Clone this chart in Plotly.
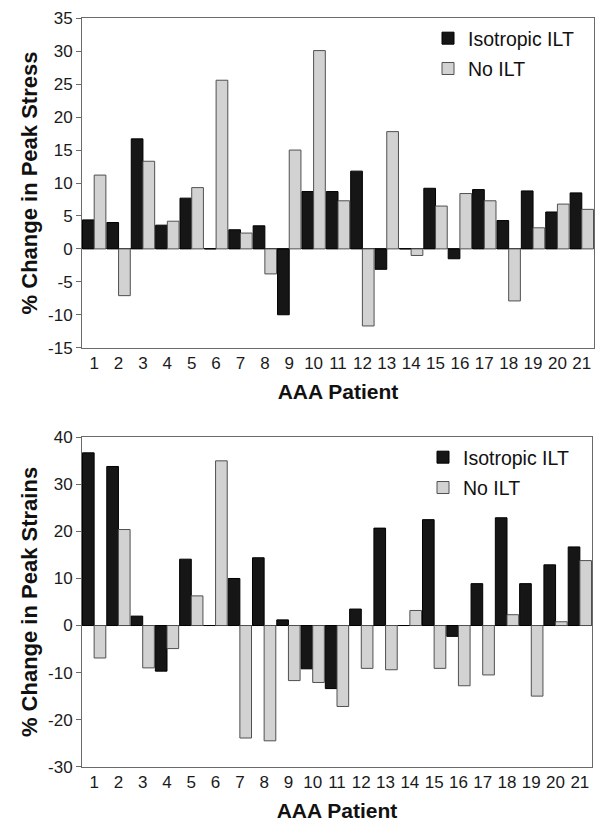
import plotly.graph_objects as go

patients = list(range(1, 22))
patient_labels = [str(p) for p in patients]

stress_isotropic = [4.4, 4.0, 16.7, 3.6, 7.7, 0.0, 2.9, 3.5, -10.0, 8.7, 8.7,
                    11.8, -3.1, 0.0, 9.2, -1.5, 9.0, 4.3, 8.8, 5.6, 8.5]
stress_no_ilt = [11.2, -7.1, 13.3, 4.2, 9.3, 25.6, 2.4, -3.8, 15.0, 30.1, 7.3,
                 -11.7, 17.8, -1.0, 6.5, 8.4, 7.3, -7.9, 3.2, 6.8, 6.0]

strain_isotropic = [36.7, 33.8, 2.0, -9.7, 14.1, 0.0, 10.0, 14.4, 1.2, -9.2, -13.4,
                    3.5, 20.7, 0.0, 22.5, -2.3, 8.9, 22.9, 8.9, 12.9, 16.7]
strain_no_ilt = [-6.9, 20.4, -9.0, -4.9, 6.3, 35.0, -23.9, -24.5, -11.7, -12.1, -17.2,
                 -9.1, -9.4, 3.2, -9.1, -12.8, -10.5, 2.3, -15.0, 0.8, 13.8]

series_names = ["Isotropic ILT", "No ILT"]
stress_ticks = [35, 30, 25, 20, 15, 10, 5, 0, -5, -10, -15]
stress_tick_labels = ["35", "30", "25", "20", "15", "10", "5", "0", "-5", "-10", "-15"]
strain_ticks = [40, 30, 20, 10, 0, -10, -20, -30]
strain_tick_labels = ["40", "30", "20", "10", "0", "-10", "-20", "-30"]

# the page body has an 8px margin, so the figure is drawn 8px in from the corner
OFF = 8
W, H = 603 - OFF, 829 - OFF
FONT = "Liberation Sans, Arial, Helvetica, sans-serif"
BLACK = "#161616"
GRAY = "#d2d2d2"
LINE = "#6a6a6a"

def fx(px):
    return (px - OFF) / W

def fy(py):
    return 1 - (py - OFF) / H

fig = go.Figure()

fig.add_trace(go.Bar(x=patients, y=stress_isotropic, name=series_names[0],
                     marker=dict(color=BLACK, line=dict(color="#000000", width=1)),
                     xaxis="x", yaxis="y", legend="legend", legendgroup="a"))
fig.add_trace(go.Bar(x=patients, y=stress_no_ilt, name=series_names[1],
                     marker=dict(color=GRAY, line=dict(color="#505050", width=1)),
                     xaxis="x", yaxis="y", legend="legend", legendgroup="b"))
fig.add_trace(go.Bar(x=patients, y=strain_isotropic, name=series_names[0],
                     marker=dict(color=BLACK, line=dict(color="#000000", width=1)),
                     xaxis="x2", yaxis="y2", legend="legend2", legendgroup="c"))
fig.add_trace(go.Bar(x=patients, y=strain_no_ilt, name=series_names[1],
                     marker=dict(color=GRAY, line=dict(color="#505050", width=1)),
                     xaxis="x2", yaxis="y2", legend="legend2", legendgroup="d"))

xcommon = dict(range=[0.5, 21.5], tickvals=patients, ticktext=patient_labels,
               showgrid=False, zeroline=False, showline=True, linecolor=LINE,
               linewidth=1, mirror=True, ticks="", automargin=False,
               tickfont=dict(family=FONT, size=17, color="#1a1a1a"),
               title=dict(text="<b>AAA Patient</b>",
                          font=dict(family=FONT, size=21, color="#111111"),
                          standoff=12))
ycommon = dict(showgrid=False, showline=True, linecolor=LINE, linewidth=1,
               mirror=True, ticks="outside", ticklen=5, tickcolor=LINE,
               automargin=False,
               zeroline=True, zerolinecolor="#333333", zerolinewidth=1,
               tickfont=dict(family=FONT, size=17, color="#1a1a1a"))

fig.update_layout(
    width=W, height=H,
    margin=dict(l=0, r=0, t=0, b=0),
    paper_bgcolor="white", plot_bgcolor="white",
    barmode="group", bargap=0.04, bargroupgap=0.0,
    font=dict(family=FONT),
    xaxis=dict(domain=[fx(82), fx(594)], anchor="y", **xcommon),
    yaxis=dict(domain=[fy(347.7), fy(18.3)], anchor="x", range=[-15, 35],
               tickvals=stress_ticks, ticktext=stress_tick_labels,
               title=dict(text="<b>% Change in Peak Stress</b>",
                          font=dict(family=FONT, size=22, color="#111111"),
                          standoff=4),
               **ycommon),
    xaxis2=dict(domain=[fx(82), fx(592)], anchor="y2", **xcommon),
    yaxis2=dict(domain=[fy(766.7), fy(437.3)], anchor="x2", range=[-30, 40],
                tickvals=strain_ticks, ticktext=strain_tick_labels,
                title=dict(text="<b>% Change in Peak Strains</b>",
                           font=dict(family=FONT, size=22, color="#111111"),
                           standoff=4),
                **ycommon),
    legend=dict(x=fx(428), y=fy(19), xanchor="left", yanchor="top",
                bgcolor="rgba(0,0,0,0)", tracegroupgap=2,
                font=dict(family=FONT, size=19.5, color="#111111")),
    legend2=dict(x=fx(423), y=fy(438), xanchor="left", yanchor="top",
                 bgcolor="rgba(0,0,0,0)", tracegroupgap=2,
                 font=dict(family=FONT, size=19.5, color="#111111")),
)

fig.write_html("out.html")
